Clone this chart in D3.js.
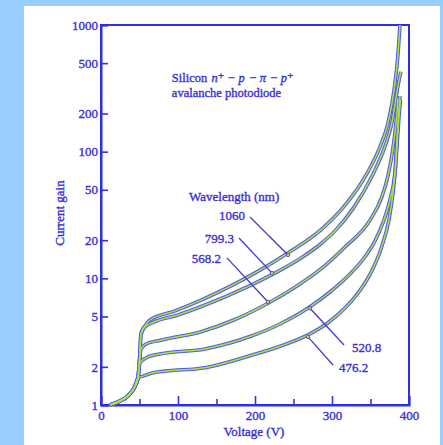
<!DOCTYPE html>
<html><head><meta charset="utf-8">
<script src="https://cdn.jsdelivr.net/npm/d3@7"></script>
<style>html,body{margin:0;padding:0;background:#99ccff;} svg{display:block}</style>
</head><body>
<svg id="c" width="443" height="445"></svg>
<script>
// ---- data ----
const wavelengths = ["1060", "799.3", "568.2", "520.8", "476.2"];

const volts1060 = [11.7,24.7,35,42.9,48,50.2,51.9,57.1,63.6,96.1,128.6,171.4,206.5,241.6,284.4,314.3,345.5,362.3,372.7,380.5,385.7,388.3];
const gain1060  = [1.0,1.075,1.18,1.36,1.63,2.4,3.7,4.2,4.69,5.53,6.67,8.87,11.6,15.7,23.8,36.1,67.3,109,168,303,586,1000];

const volts799 = [11.7,24.7,35,42.9,48,50.2,51.9,57.1,66.2,100,128.6,193.5,222.1,258.4,284.4,303.9,327.3,353.2,368.8,377.9,384.4,388.3,389.6];
const gain799  = [1.0,1.075,1.18,1.36,1.63,2.35,3.57,4.13,4.44,5.14,5.94,8.77,10.7,14.3,18.5,23.7,35.5,66.4,110,170,296,398,427];

const volts568 = [11.7,24.7,35,42.9,48,50.2,51.9,58.4,79.2,131.2,174,216.9,252,284.4,316.9,349.4,364.9,372.7,379.2,383.1,384.4,385.5];
const gain568  = [1.0,1.075,1.18,1.36,1.63,2.25,2.77,3.03,3.26,3.81,4.73,6.36,8.51,11.7,17.7,28.8,44.2,64.4,107,168,204,263];

const volts520 = [11.7,24.7,35,42.9,48,50.6,58.4,76.6,135.1,193.5,232.5,271.4,297.4,323.4,342.9,355.8,366.2,375.3,381.8,384.4,386.5,388.3];
const gain520  = [1.0,1.075,1.18,1.36,1.63,2.15,2.35,2.53,2.77,3.47,4.36,5.96,7.80,10.8,14.8,19.7,27.5,41.9,68.5,126,200,275];

const volts476 = [11.7,24.7,35,42.9,48,54.5,66.2,83.1,135,193.5,232.5,268.8,293.5,316.9,336.4,351.9,364.9,374,379.2,383.1,385.7,387.5,389];
const gain476  = [1.0,1.075,1.18,1.36,1.63,1.69,1.79,1.85,1.97,2.45,2.91,3.58,4.40,5.82,8.04,11.5,18.0,29.1,47,84.4,145,206,257];

const yTicks = [1, 2, 5, 10, 20, 50, 100, 200, 500, 1000];
const yTickLabels = ["1", "2", "5", "10", "20", "50", "100", "200", "500", "1000"];
const xMajorTicks = [0, 100, 200, 300, 400];
const xMinorTicks = [50, 150, 250, 350];

// annotation labels (data units)
const labelV      = [187, 172.7, 156, 326, 309];
const labelG      = [28.8, 19.0, 13.2, 2.62, 1.82];
const leaderFromV = [193.5, 179.2, 163.6, 315.6, 301.3];
const leaderFromG = [30.5, 20.8, 14.5, 2.98, 2.07];
const leaderToV   = [242.9, 222.1, 216.9, 271.4, 268.8];
const leaderToG   = [15.3, 11.0, 6.5, 5.8, 3.45];

const titlePieces = ["Silicon", "n\u207A", "\u2212", "p", "\u2212", "\u03c0", "\u2212", "p\u207A"];
const titleItalic = [false, true, false, true, false, true, false, true];
const titleLine2 = "avalanche photodiode";
const titleLine1V = 92, titleLine1G = 358;
const titleLine2G = 268;
const legendTitleV = 114.3, legendTitleG = 40.8;

// ---- drawing ----
const series = [
  {name: wavelengths[0], v: volts1060, g: gain1060},
  {name: wavelengths[1], v: volts799,  g: gain799},
  {name: wavelengths[2], v: volts568,  g: gain568},
  {name: wavelengths[3], v: volts520,  g: gain520},
  {name: wavelengths[4], v: volts476,  g: gain476}
];

const svg = d3.select("#c");
const W = 443, H = 445;
const ink = "#3a2fd6", axisCol = "#2f2fe6";
const font = "'Liberation Serif', 'DejaVu Serif', serif";
const fs = 13;

function styleText(sel, size) {
  return sel.attr("font-family", font).attr("font-size", size || fs).attr("fill", ink)
    .attr("stroke", ink).attr("stroke-width", 0.35);
}

// white panel
svg.append("rect").attr("x", 24).attr("y", 6).attr("width", 416).attr("height", H - 6).attr("fill", "#ffffff");

const x = d3.scaleLinear().domain([0, 400]).range([101, 409]);
const y = d3.scaleLog().domain([1, 1000]).range([405, 25]);

// frame
svg.append("rect")
  .attr("x", x(0)).attr("y", y(1000))
  .attr("width", x(400) - x(0)).attr("height", y(1) - y(1000))
  .attr("fill", "none").attr("stroke", axisCol).attr("stroke-width", 2);

// y axis
const yAxis = d3.axisLeft(y).tickValues(yTicks)
  .tickFormat((d, i) => yTickLabels[i]).tickSize(-7).tickPadding(3);
const gy = svg.append("g").attr("transform", `translate(${x(0)},0)`).call(yAxis);
gy.select(".domain").attr("stroke", axisCol).attr("stroke-width", 2);
gy.selectAll(".tick line").attr("stroke", axisCol).attr("stroke-width", 1.6);
styleText(gy.selectAll(".tick text"));

// x axis major
const xAxis = d3.axisBottom(x).tickValues(xMajorTicks).tickSize(-9).tickPadding(6);
const gx = svg.append("g").attr("transform", `translate(0,${y(1)})`).call(xAxis);
gx.select(".domain").attr("stroke", axisCol).attr("stroke-width", 2);
gx.selectAll(".tick line").attr("stroke", axisCol).attr("stroke-width", 1.6);
styleText(gx.selectAll(".tick text"));
// x axis minor
const xAxisMinor = d3.axisBottom(x).tickValues(xMinorTicks).tickSize(-6).tickFormat("");
const gxm = svg.append("g").attr("transform", `translate(0,${y(1)})`).call(xAxisMinor);
gxm.select(".domain").remove();
gxm.selectAll(".tick line").attr("stroke", axisCol).attr("stroke-width", 1.6);

// axis titles
styleText(svg.append("text").attr("x", 254).attr("y", 436).attr("text-anchor", "middle")).text("Voltage (V)");
styleText(svg.append("text").attr("transform", "translate(64,213) rotate(-90)").attr("text-anchor", "middle")).text("Current gain");

// curves
const line = d3.line().x(d => x(d[0])).y(d => y(d[1])).curve(d3.curveMonotoneX);
const cg = svg.append("g");
series.forEach(s => {
  const pts = s.v.map((v, i) => [v, s.g[i]]);
  cg.append("path").attr("d", line(pts)).attr("fill", "none")
    .attr("stroke", "#4f5bea").attr("stroke-width", 3.6).attr("stroke-linejoin", "round");
});
series.forEach(s => {
  const pts = s.v.map((v, i) => [v, s.g[i]]);
  cg.append("path").attr("d", line(pts)).attr("fill", "none")
    .attr("stroke", "#b0e040").attr("stroke-width", 1.5).attr("stroke-linejoin", "round");
});

// leaders and labels
wavelengths.forEach((w, i) => {
  svg.append("line")
    .attr("x1", x(leaderFromV[i])).attr("y1", y(leaderFromG[i]))
    .attr("x2", x(leaderToV[i])).attr("y2", y(leaderToG[i]))
    .attr("stroke", "#4a35d0").attr("stroke-width", 1.3);
  svg.append("circle").attr("cx", x(leaderToV[i])).attr("cy", y(leaderToG[i])).attr("r", 1.8)
    .attr("fill", "#b0e040").attr("stroke", "#4a35d0").attr("stroke-width", 0.8);
  styleText(svg.append("text").attr("x", x(labelV[i])).attr("y", y(labelG[i]))
    .attr("text-anchor", i < 3 ? "end" : "start")).text(w);
});

styleText(svg.append("text").attr("x", x(legendTitleV)).attr("y", y(legendTitleG))).text("Wavelength (nm)");

// title block: pieces laid out one after another with a space-sized gap
const titleSize = 12.5;
let cx = x(titleLine1V);
const gap = 3.5;
titlePieces.forEach((p, i) => {
  const t = styleText(svg.append("text").attr("x", cx).attr("y", y(titleLine1G)), titleSize)
    .attr("font-style", titleItalic[i] ? "italic" : "normal").text(p);
  cx += t.node().getBBox().width + gap;
});
styleText(svg.append("text").attr("x", x(titleLine1V)).attr("y", y(titleLine2G)), titleSize).text(titleLine2);
</script>
</body></html>
